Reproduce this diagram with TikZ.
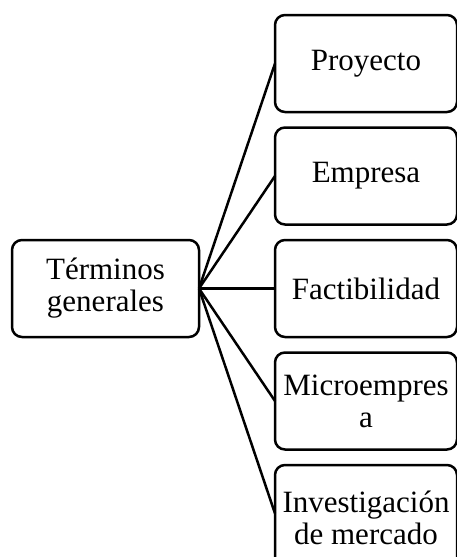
\documentclass[tikz,border=0pt]{standalone}
\usepackage{fontspec}
\setmainfont{Liberation Serif}
\usetikzlibrary{positioning}

\begin{document}
\begin{tikzpicture}[x=1pt,y=-1pt]
        \tikzset{block/.style= {draw, rectangle, rounded corners=10pt, line width=2.5pt, align=center, inner sep=0pt, outer sep=0pt,
                 font=\fontsize{31}{32}\selectfont},
        lblock/.style={block, minimum width=187pt, minimum height=97pt},
        rblock/.style={block, minimum width=182pt, minimum height=97pt},
        link/.style={draw, line width=2.5pt},
        }
        \useasboundingbox (0,0) rectangle (457,557);
        \node [lblock] (terms) at (105.5,288.5) {Términos \\ generales};
        \node [rblock, right =76pt of terms] (fact) {Factibilidad};
        \node [rblock, above =15.5pt of fact] (empr) {Empresa};
        \node [rblock, above =15.5pt of empr] (proy) {Proyecto};
        \node [rblock, below =15.5pt of fact] (micro) {Microempres \\ a};
        %% last box runs off the page
        \node [rblock, minimum height=137pt, below =15.5pt of micro] (inv) {Investigación \\ de mercado \\ \mbox{}};

%% paths
        \path[link] (terms.east) edge (proy.west)
                    (terms.east) edge (empr.west)
                    (terms.east) edge (fact.west)
                    (terms.east) edge (micro.west)
                    (terms.east) edge ([yshift=20pt]inv.west)
                    ;
    \end{tikzpicture}
\end{document}
